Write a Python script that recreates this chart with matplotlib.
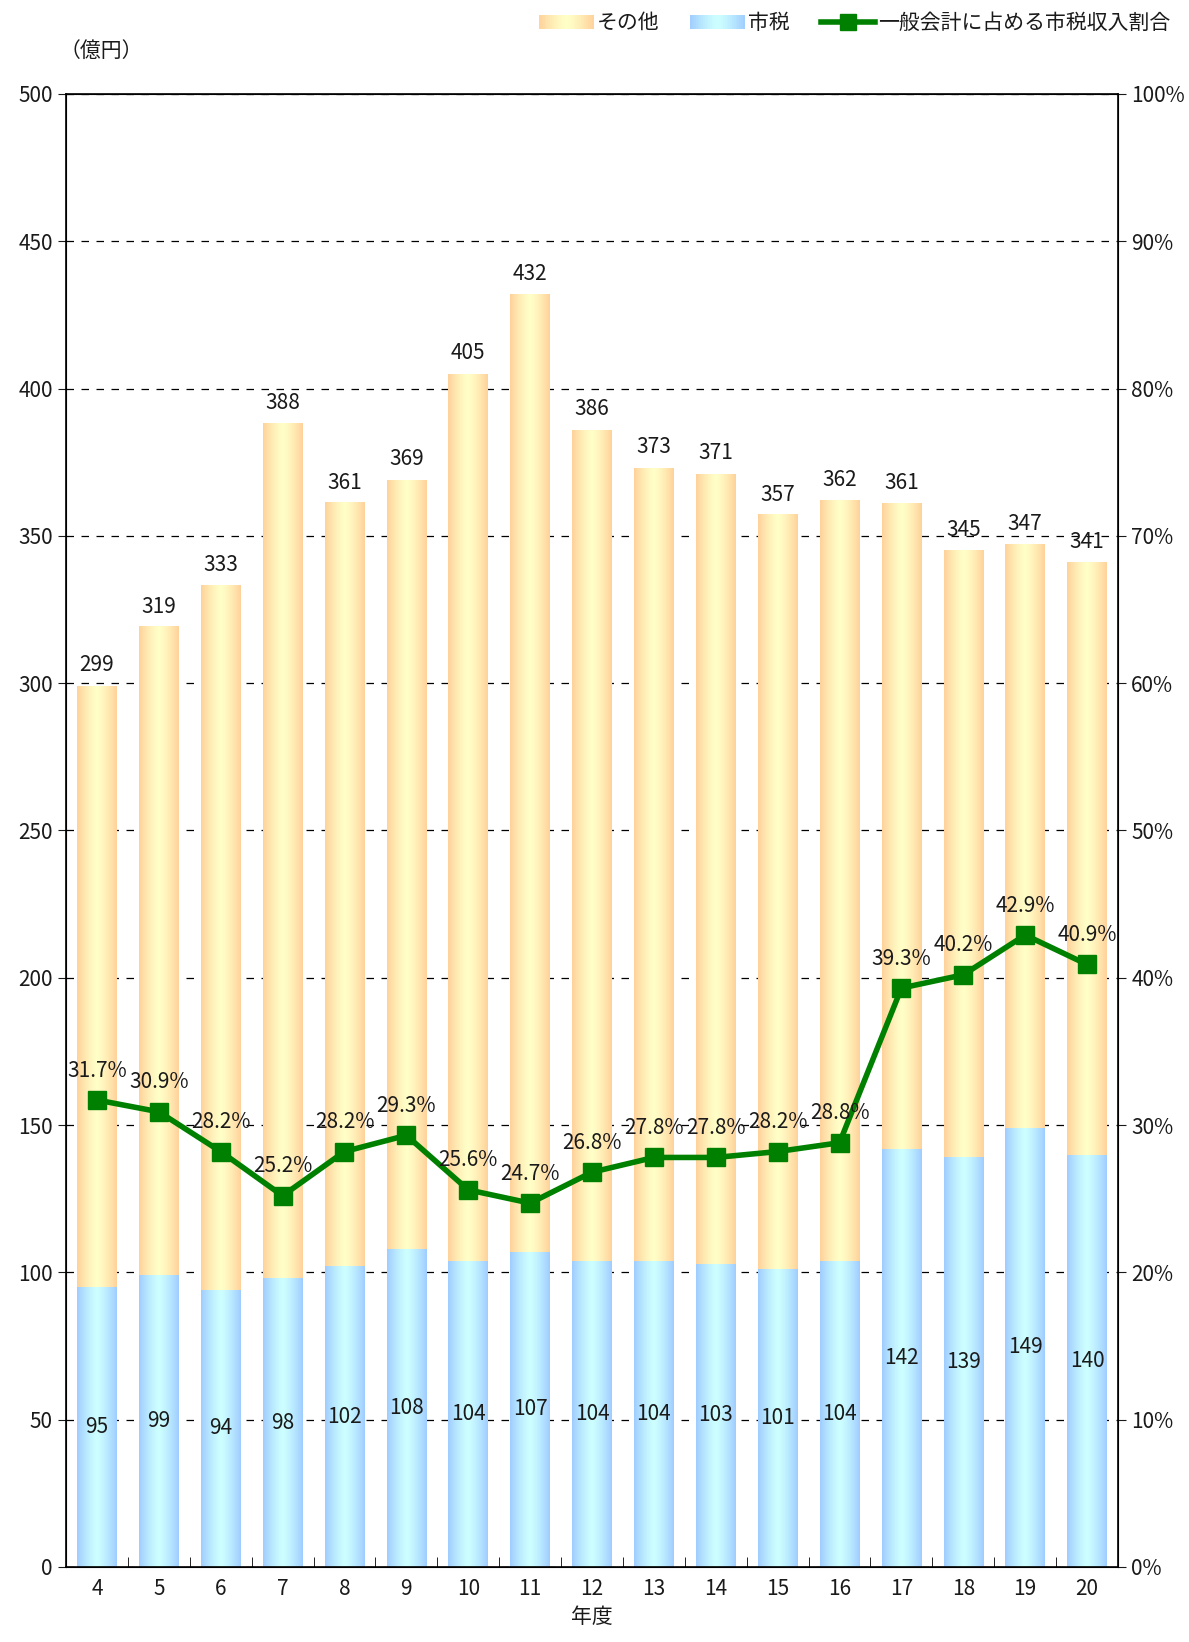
import numpy as np
import matplotlib
matplotlib.use("Agg")
from matplotlib import pyplot as plt
from matplotlib.patches import Rectangle
from matplotlib.lines import Line2D
from matplotlib.legend_handler import HandlerBase

plt.rcParams['font.family'] = ['Noto Sans CJK JP', 'DejaVu Sans']

years = ['4', '5', '6', '7', '8', '9', '10', '11', '12', '13', '14', '15', '16', '17', '18', '19', '20']
totals = [299, 319, 333, 388, 361, 369, 405, 432, 386, 373, 371, 357, 362, 361, 345, 347, 341]
city_tax = [95, 99, 94, 98, 102, 108, 104, 107, 104, 104, 103, 101, 104, 142, 139, 149, 140]
tax_share = [31.7, 30.9, 28.2, 25.2, 28.2, 29.3, 25.6, 24.7, 26.8, 27.8, 27.8, 28.2, 28.8, 39.3, 40.2, 42.9, 40.9]

ORANGE_EDGE = np.array([255, 210, 155]) / 255
ORANGE_MID = np.array([255, 255, 200]) / 255
BLUE_EDGE = np.array([160, 205, 255]) / 255
BLUE_MID = np.array([205, 255, 255]) / 255
TEXT = '#1a1a1a'
FS = 15


def gradient(edge, mid, n=64):
    t = np.linspace(-1, 1, n)
    w = np.abs(t) ** 1.3
    row = mid[None, :] * (1 - w[:, None]) + edge[None, :] * w[:, None]
    return row[None, :, :]


class GradientHandler(HandlerBase):
    def __init__(self, edge, mid):
        super().__init__()
        self.edge, self.mid = edge, mid

    def create_artists(self, legend, orig_handle, xdescent, ydescent,
                       width, height, fontsize, trans):
        n = 30
        arts = []
        for i in range(n):
            t = abs((i + 0.5) / n * 2 - 1) ** 1.3
            c = self.mid * (1 - t) + self.edge * t
            r = Rectangle((-xdescent + width * i / n, -ydescent), width / n + 0.3, height,
                          facecolor=c, edgecolor='none', transform=trans)
            arts.append(r)
        return arts


fig = plt.figure(figsize=(11.89, 16.42), dpi=100)
ax = fig.add_axes([0.0555, 0.0457, 0.8848, 0.8971])

x = np.arange(len(years))
w = 0.64
g_orange = gradient(ORANGE_EDGE, ORANGE_MID)
g_blue = gradient(BLUE_EDGE, BLUE_MID)
for xi, tot, tax in zip(x, totals, city_tax):
    ax.imshow(g_blue, extent=[xi - w / 2, xi + w / 2, 0, tax], aspect='auto',
              interpolation='bilinear', zorder=2)
    ax.imshow(g_orange, extent=[xi - w / 2, xi + w / 2, tax, tot], aspect='auto',
              interpolation='bilinear', zorder=2)
    ax.text(xi, tot + 7, str(tot), ha='center', va='center', fontsize=FS, color=TEXT, zorder=5)
    ax.text(xi, tax / 2, str(tax), ha='center', va='center', fontsize=FS, color=TEXT, zorder=5)

ax.set_xlim(-0.5, len(years) - 0.5)
ax.set_ylim(0, 500)
ax.set_yticks(np.arange(0, 501, 50))
ax.set_xticks(x)
ax.set_xticklabels(years)
ax.set_xticks(np.arange(-0.5, len(years), 1), minor=True)
ax.tick_params(axis='x', which='major', length=0, labelsize=FS, colors=TEXT, pad=8)
ax.tick_params(axis='x', which='minor', direction='in', length=7)
ax.tick_params(axis='y', direction='out', length=6, labelsize=FS, colors=TEXT)
ax.yaxis.grid(True, linestyle=(0, (6, 6)), color='black', linewidth=0.9, zorder=1)
ax.set_axisbelow(True)
for s in ax.spines.values():
    s.set_linewidth(1.2)
ax.set_xlabel('年度', fontsize=FS, color=TEXT, labelpad=4)
fig.text(0.050, 0.969, '（億円）', fontsize=FS, color=TEXT, ha='left', va='center')

ax2 = ax.twinx()
ax2.set_ylim(0, 100)
ax2.set_yticks(np.arange(0, 101, 10))
ax2.set_yticklabels([f'{v}%' for v in range(0, 101, 10)])
ax2.tick_params(axis='y', direction='out', length=6, labelsize=FS, colors=TEXT)
ax2.plot(x, tax_share, color='#008000', linewidth=4, marker='s', markersize=13, zorder=6)
for xi, p in zip(x, tax_share):
    ax2.text(xi, p + 2.0, f'{p}%', ha='center', va='center', fontsize=FS, color=TEXT, zorder=7)

h_other = Rectangle((0, 0), 1, 1)
h_tax = Rectangle((0, 0), 1, 1)
h_line = Line2D([], [], color='#008000', linewidth=4, marker='s', markersize=11)
fig.legend([h_other, h_tax, h_line], ['その他', '市税', '一般会計に占める市税収入割合'],
           handler_map={h_other: GradientHandler(ORANGE_EDGE, ORANGE_MID),
                        h_tax: GradientHandler(BLUE_EDGE, BLUE_MID)},
           loc='upper right', bbox_to_anchor=(1.0, 1.004), ncol=3, frameon=False,
           fontsize=FS, handlelength=2.6, handletextpad=0.15, columnspacing=1.5,
           labelcolor=TEXT)

fig.savefig('out.png', dpi=100)
